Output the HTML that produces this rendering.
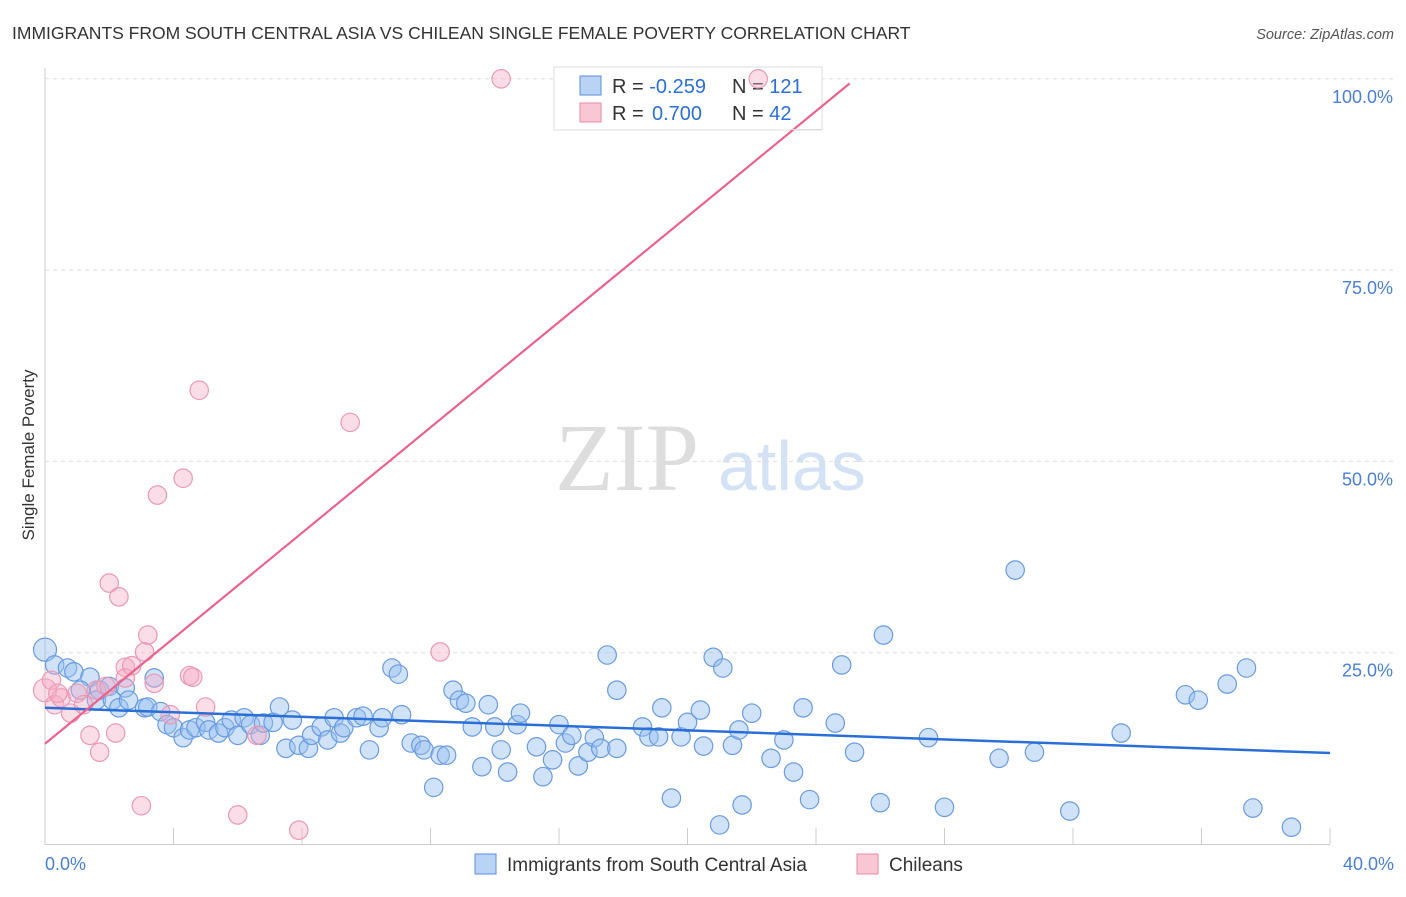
<!DOCTYPE html>
<html><head><meta charset="utf-8"><style>
body{margin:0;background:#fff;font-family:"Liberation Sans",sans-serif}
svg text{font-family:"Liberation Sans",sans-serif}
</style></head><body>
<svg id="c" width="1406" height="892" xmlns="http://www.w3.org/2000/svg">
<text x="12" y="39" font-size="17.5" fill="#333">IMMIGRANTS FROM SOUTH CENTRAL ASIA VS CHILEAN SINGLE FEMALE POVERTY CORRELATION CHART</text>
<text x="1394" y="39" font-size="14.5" fill="#555" text-anchor="end" font-style="italic">Source: ZipAtlas.com</text>
<text transform="translate(34,455) rotate(-90)" font-size="17" fill="#333" text-anchor="middle">Single Female Poverty</text>
<text x="555" y="490" font-size="96" fill="#ddd" style="font-family:'Liberation Serif',serif">ZIP</text>
<text x="718" y="490" font-size="70" fill="#d4e2f5">atlas</text>
<g id="grid"></g>
<g>
<rect x="554" y="67" width="268" height="63" fill="#fff" stroke="#ddd"/>
<rect x="580" y="76" width="21" height="19" fill="#b9d3f5" stroke="#5b8fd9"/>
<rect x="580" y="103" width="21" height="19" fill="#f9c6d4" stroke="#e88aa5"/>
<text x="612" y="93" font-size="20" fill="#333">R = <tspan fill="#2c6fd6">-0.259</tspan><tspan x="732">N = </tspan><tspan fill="#2c6fd6">121</tspan></text>
<text x="612" y="120" font-size="20" fill="#333">R = <tspan fill="#2c6fd6" x="652">0.700</tspan><tspan x="732">N = </tspan><tspan fill="#2c6fd6">42</tspan></text>
</g>
<g id="pts"></g><g id="lines"></g>
<g>
<rect x="475" y="854" width="21" height="20" fill="#b9d3f5" stroke="#5b8fd9"/>
<text x="507" y="871" font-size="19" fill="#333">Immigrants from South Central Asia</text>
<rect x="857" y="854" width="21" height="20" fill="#f9c6d4" stroke="#e88aa5"/>
<text x="889" y="871" font-size="19" fill="#333">Chileans</text>
</g>
</svg>
<script>
const xTicks=[0,4,8,12,16,20,24,28,32,36,40];
const yTicks=[25,50,75,100];
const blueX=[0,0.3,0.7,0.9,1.4,1.1,1.7,2,2.5,1.6,2.1,2.3,2.6,3.1,3.2,3.4,3.6,3.8,4,4.3,4.5,4.7,5,5.1,5.4,5.6,5.8,6,6.2,6.4,6.7,6.8,7.1,7.3,7.5,7.7,7.9,8.2,8.3,8.6,8.8,9,9.2,9.3,9.7,9.9,10.1,10.4,10.5,10.8,11,11.1,11.4,11.7,11.8,12.1,12.3,12.5,12.7,12.9,13.1,13.3,13.6,13.8,14,14.2,14.4,14.7,14.8,15.3,15.5,15.8,16,16.2,16.4,16.6,16.9,17.1,17.3,17.5,17.8,17.8,18.6,18.8,19.1,19.2,19.5,19.8,20,20.4,20.5,20.8,21,21.1,21.4,21.6,21.7,22,22.6,23,23.3,23.6,23.8,24.6,24.8,25.2,26,26.1,27.5,28,29.7,30.2,30.8,31.9,33.5,35.5,35.9,36.8,37.4,37.6,38.8];
const blueY=[25.4,23.4,23,22.5,21.8,20.1,20.1,20.6,20.4,18.8,18.8,17.8,18.8,17.8,17.9,21.7,17.3,15.6,15.2,13.9,14.9,15.2,15.9,14.9,14.5,15.2,16.2,14.2,16.5,15.6,14.2,15.8,15.9,17.9,12.5,16.2,12.9,12.5,14.2,15.3,13.6,16.5,14.5,15.2,16.5,16.7,12.3,15.2,16.5,23,22.2,16.9,13.2,12.9,12.3,7.4,11.6,11.6,20.1,18.8,18.4,15.3,10.1,18.2,15.3,12.3,9.4,15.6,17.1,12.7,8.8,11,15.6,13.2,14.2,10.2,12,13.9,12.5,24.7,12.5,20.1,15.3,14,14,17.8,6,14,15.9,17.5,12.8,24.4,2.5,23,12.9,14.9,5.1,17.1,11.2,13.6,9.4,17.8,5.8,15.8,23.4,12,5.4,27.3,13.9,4.8,11.2,35.8,12,4.3,14.5,19.5,18.8,20.9,23,4.7,2.2];
const pinkX=[0,0.2,0.3,0.5,0.4,0.8,1,1.2,1.4,1.6,1.7,1.9,2,2.2,2.3,2.5,2.5,2.7,3,3.1,3.2,3.4,3.5,3.9,4.3,4.5,4.6,4.8,5,6,6.6,7.9,9.5,12.3,14.2,22.2];
const pinkY=[20.1,21.4,18.2,19.1,19.7,17.1,19.7,18.2,14.2,20.1,12,20.6,34.1,14.5,32.3,23.1,21.7,23.3,5,25.1,27.3,21,45.6,16.9,47.8,22,21.8,59.3,17.9,3.8,14.2,1.8,55.1,25.1,100,100];
const blueFit=[17.8,11.9];
const pinkFit=[13.1,99.4];
const pinkFitEndX=25.05;
const X=v=>45+v*32.125, Y=v=>844-v*7.652;
const NS='http://www.w3.org/2000/svg';
function mk(t,a,p){const e=document.createElementNS(NS,t);for(const k in a)e.setAttribute(k,a[k]);p.appendChild(e);return e;}
const g=document.getElementById('grid');
let ax=mk('line',{x1:45,y1:68,x2:45,y2:845,stroke:'#ccc'},g);

let bx=mk('line',{x1:45,y1:844.5,x2:1330,y2:844.5,stroke:'#ccc'},g);

yTicks.forEach(t=>{const l=mk('line',{x1:45,y1:Y(t),x2:1394,y2:Y(t),stroke:'#ddd','stroke-dasharray':'4,4'},g);

const tx=mk('text',{x:1393,y:Y(t)+24,'font-size':18,fill:'#4a7fd6','text-anchor':'end'},g);tx.textContent=t.toFixed(1)+'%';
});
xTicks.forEach((t,i)=>{if(i>0){const l=mk('line',{x1:X(t),y1:828,x2:X(t),y2:844,stroke:'#ccc'},g);
}});
[[0,'start',45],[40,'end',1394]].forEach(([v,a,x])=>{const tx=mk('text',{x:x,y:870,'font-size':18,fill:'#4a7fd6','text-anchor':a},g);tx.textContent=v.toFixed(1)+'%';
});
const p=document.getElementById('pts');
blueX.forEach((x,i)=>{const c=mk('circle',{cx:X(x),cy:Y(blueY[i]),r:i==0?11.5:9.2,fill:'rgba(150,190,240,0.45)',stroke:'#6a9be0','stroke-width':1.2},p);
});
pinkX.forEach((x,i)=>{const c=mk('circle',{cx:X(x),cy:Y(pinkY[i]),r:i==0?11.5:9.2,fill:'rgba(245,170,195,0.4)',stroke:'#eb9ab3','stroke-width':1.2},p);
});
const L=document.getElementById('lines');
let b=mk('line',{x1:X(0),y1:Y(blueFit[0]),x2:X(40),y2:Y(blueFit[1]),stroke:'#2a6fd8','stroke-width':2.5},L);

let q=mk('line',{x1:X(0),y1:Y(pinkFit[0]),x2:X(pinkFitEndX),y2:Y(pinkFit[1]),stroke:'#e8648d','stroke-width':2.2},L);

let lb=mk('rect',{x:790,y:129,width:32,height:1,fill:'#ddd'},L);

</script>
</body></html>
